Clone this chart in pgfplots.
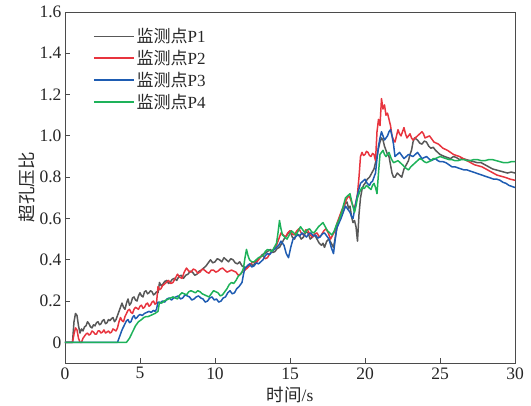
\documentclass[border=0pt]{standalone}
\usepackage{fontspec}
\setmainfont{Liberation Serif}
\newfontfamily\cjk{Noto Sans CJK SC}
\usepackage{pgfplots}
\pgfplotsset{compat=1.18}

\definecolor{cP1}{RGB}{88,88,88}
\definecolor{cP2}{RGB}{232,52,62}
\definecolor{cP3}{RGB}{30,92,178}
\definecolor{cP4}{RGB}{30,178,90}
\definecolor{axisgray}{RGB}{75,75,75}

\begin{document}
\begin{tikzpicture}
\useasboundingbox (-65pt,-43pt) rectangle (466pt,363pt);
\begin{axis}[
  at={(0,0)}, anchor=south west,
  scale only axis, width=450pt, height=351pt,
  xmin=0, xmax=30, ymin=-0.1, ymax=1.6,
  xtick={0,5,10,15,20,25,30},
  ytick={0,0.2,0.4,0.6,0.8,1.0,1.2,1.4,1.6},
  yticklabels={0,0.2,0.4,0.6,0.8,1.0,1.2,1.4,1.6},
  xtick pos=left, ytick pos=left,
  tick align=inside,
  major tick length=5pt,
  axis line style={axisgray, line width=0.9pt},
  tick style={axisgray, line width=0.9pt},
  /pgf/number format/assume math mode=true,
  tick label style={font=\fontsize{17.5}{20}\selectfont, text=black!85},
  xticklabel style={yshift=-1pt},
  xlabel={{\cjk 时间}/s},
  ylabel={\cjk 超孔压比},
  label style={font=\fontsize{17.5}{20}\selectfont, text=black!85},
  xlabel style={yshift=-1pt},
  ylabel style={yshift=-2pt},
  legend style={draw=none, fill=none, at={(0.055,0.965)}, anchor=north west,
    font=\fontsize{17}{19}\selectfont, row sep=2pt, text=black!85},
  legend cell align=left,
  legend image code/.code={\draw[#1, line width=1.7pt] (0pt,0pt) -- (40pt,0pt);},
  every axis plot/.append style={line width=1.5pt, line join=round},
]
\addplot[cP1] coordinates {
(0,0) (0.5,0) (0.6,0.10) (0.7,0.14) (0.8,0.13) (0.9,0.08) (1.0,0.045) (1.1,0.065) (1.2,0.055) (1.3,0.075) (1.4,0.08) (1.5,0.10) (1.6,0.09) (1.7,0.075) (1.8,0.07) (1.9,0.085) (2.0,0.08) (2.1,0.095) (2.2,0.10) (2.3,0.085) (2.4,0.09) (2.5,0.105) (2.6,0.11) (2.7,0.09) (2.8,0.095) (2.9,0.11) (3.0,0.105) (3.1,0.115) (3.2,0.12) (3.3,0.10) (3.4,0.11) (3.5,0.13) (3.6,0.15) (3.7,0.17) (3.8,0.19) (3.9,0.17) (4.0,0.16) (4.1,0.19) (4.2,0.21) (4.3,0.18) (4.4,0.19) (4.5,0.215) (4.6,0.22) (4.7,0.205) (4.8,0.20) (4.9,0.225) (5.0,0.24) (5.1,0.225) (5.2,0.22) (5.3,0.245) (5.4,0.25) (5.5,0.235) (5.6,0.24) (5.7,0.25) (5.8,0.245) (5.9,0.23) (6.0,0.235) (6.1,0.245) (6.2,0.24) (6.3,0.29) (6.4,0.275) (6.5,0.28) (6.65,0.295) (6.8,0.30) (6.9,0.285) (7.0,0.29) (7.15,0.305) (7.3,0.31) (7.45,0.30) (7.6,0.32) (7.75,0.325) (7.9,0.31) (8.05,0.325) (8.2,0.33) (8.35,0.345) (8.5,0.34) (8.65,0.325) (8.8,0.33) (8.95,0.345) (9.1,0.35) (9.25,0.36) (9.4,0.37) (9.55,0.385) (9.7,0.40) (9.85,0.385) (10.0,0.39) (10.15,0.405) (10.3,0.40) (10.45,0.39) (10.6,0.41) (10.75,0.40) (10.9,0.39) (11.05,0.405) (11.2,0.40) (11.35,0.385) (11.5,0.38) (11.65,0.39) (11.8,0.37) (11.95,0.365) (12.1,0.36) (12.25,0.375) (12.4,0.38) (12.55,0.37) (12.7,0.39) (12.85,0.40) (13.0,0.41) (13.15,0.425) (13.3,0.43) (13.5,0.44) (13.7,0.45) (13.85,0.435) (14.0,0.44) (14.15,0.455) (14.3,0.46) (14.45,0.48) (14.6,0.50) (14.8,0.52) (15.0,0.54) (15.15,0.51) (15.3,0.50) (15.45,0.525) (15.6,0.52) (15.75,0.50) (15.9,0.51) (16.05,0.535) (16.2,0.53) (16.35,0.50) (16.5,0.51) (16.65,0.52) (16.8,0.50) (16.95,0.48) (17.1,0.47) (17.2,0.48) (17.3,0.46) (17.45,0.49) (17.6,0.50) (17.75,0.48) (17.9,0.46) (18.05,0.52) (18.2,0.58) (18.35,0.61) (18.5,0.64) (18.65,0.67) (18.8,0.68) (18.9,0.65) (19.0,0.66) (19.1,0.61) (19.2,0.58) (19.3,0.59) (19.4,0.56) (19.5,0.49) (19.6,0.62) (19.7,0.70) (19.8,0.74) (19.9,0.76) (20.0,0.77) (20.15,0.79) (20.3,0.80) (20.45,0.82) (20.6,0.84) (20.7,0.87) (20.8,0.90) (20.9,0.94) (21.0,0.97) (21.1,0.99) (21.2,0.98) (21.3,0.95) (21.4,0.93) (21.5,0.91) (21.6,0.90) (21.7,0.86) (21.8,0.82) (21.9,0.80) (22.0,0.80) (22.15,0.82) (22.3,0.81) (22.45,0.80) (22.6,0.84) (22.75,0.86) (22.9,0.88) (23.0,0.91) (23.1,0.93) (23.2,0.97) (23.3,0.99) (23.4,0.985) (23.5,0.98) (23.65,0.965) (23.8,0.96) (23.95,0.975) (24.1,0.97) (24.25,0.95) (24.4,0.94) (24.55,0.945) (24.7,0.93) (24.85,0.92) (25.0,0.91) (25.15,0.905) (25.3,0.90) (25.5,0.895) (25.7,0.89) (25.9,0.90) (26.1,0.895) (26.3,0.885) (26.5,0.89) (26.75,0.885) (27.0,0.88) (27.25,0.875) (27.5,0.87) (27.75,0.87) (28.0,0.86) (28.25,0.85) (28.5,0.84) (28.75,0.835) (29.0,0.83) (29.25,0.825) (29.5,0.82) (29.75,0.825) (30,0.82)
};
\addlegendentry{{\cjk 监测点}P1}
\addplot[cP2] coordinates {
(0,0) (0.5,0) (0.6,0.04) (0.7,0.07) (0.8,0.06) (0.9,0.02) (1.0,0.0) (1.1,0.0) (1.2,0.02) (1.3,0.03) (1.4,0.04) (1.5,0.045) (1.6,0.035) (1.7,0.04) (1.8,0.055) (1.9,0.05) (2.0,0.04) (2.1,0.04) (2.2,0.055) (2.3,0.055) (2.4,0.045) (2.5,0.05) (2.6,0.06) (2.7,0.045) (2.8,0.05) (2.9,0.055) (3.0,0.045) (3.1,0.05) (3.2,0.065) (3.3,0.06) (3.4,0.055) (3.5,0.07) (3.6,0.10) (3.7,0.12) (3.8,0.105) (3.9,0.10) (4.0,0.125) (4.1,0.14) (4.2,0.155) (4.3,0.16) (4.4,0.145) (4.5,0.14) (4.6,0.16) (4.7,0.17) (4.8,0.165) (4.9,0.16) (5.0,0.175) (5.1,0.18) (5.2,0.165) (5.3,0.17) (5.4,0.185) (5.5,0.19) (5.6,0.175) (5.7,0.18) (5.8,0.195) (5.9,0.20) (6.0,0.185) (6.1,0.19) (6.2,0.27) (6.3,0.255) (6.4,0.26) (6.5,0.275) (6.6,0.28) (6.75,0.29) (6.9,0.30) (7.05,0.285) (7.2,0.29) (7.35,0.31) (7.5,0.33) (7.65,0.315) (7.8,0.31) (7.95,0.34) (8.1,0.36) (8.25,0.345) (8.4,0.34) (8.55,0.355) (8.7,0.35) (8.85,0.335) (9.0,0.34) (9.15,0.355) (9.3,0.35) (9.45,0.34) (9.6,0.335) (9.75,0.35) (9.9,0.35) (10.05,0.34) (10.2,0.345) (10.35,0.355) (10.5,0.36) (10.65,0.35) (10.8,0.34) (10.95,0.345) (11.1,0.35) (11.25,0.345) (11.4,0.34) (11.55,0.325) (11.7,0.33) (11.85,0.345) (12.0,0.35) (12.15,0.36) (12.3,0.37) (12.45,0.385) (12.6,0.39) (12.75,0.385) (12.9,0.40) (13.05,0.415) (13.2,0.42) (13.35,0.405) (13.5,0.41) (13.65,0.43) (13.8,0.44) (13.95,0.455) (14.1,0.47) (14.25,0.50) (14.4,0.53) (14.55,0.52) (14.7,0.51) (14.85,0.53) (15.0,0.54) (15.15,0.525) (15.3,0.52) (15.45,0.54) (15.6,0.55) (15.75,0.53) (15.9,0.52) (16.05,0.545) (16.2,0.54) (16.35,0.52) (16.5,0.51) (16.65,0.525) (16.8,0.53) (16.95,0.51) (17.1,0.52) (17.25,0.54) (17.4,0.55) (17.55,0.53) (17.7,0.50) (17.85,0.52) (18.0,0.54) (18.15,0.58) (18.3,0.61) (18.45,0.64) (18.6,0.66) (18.75,0.69) (18.9,0.71) (19.0,0.70) (19.1,0.68) (19.2,0.66) (19.3,0.65) (19.4,0.68) (19.5,0.72) (19.6,0.80) (19.7,0.90) (19.8,0.92) (19.9,0.905) (20.0,0.91) (20.1,0.925) (20.2,0.92) (20.3,0.905) (20.4,0.90) (20.5,0.915) (20.6,0.91) (20.7,0.88) (20.8,1.02) (20.9,1.08) (21.0,1.05) (21.1,1.18) (21.2,1.13) (21.3,1.15) (21.4,1.10) (21.5,1.11) (21.6,1.08) (21.7,1.05) (21.8,1.00) (21.9,0.98) (22.0,0.97) (22.1,1.00) (22.2,1.03) (22.3,1.01) (22.4,1.00) (22.5,1.02) (22.6,1.04) (22.7,1.01) (22.8,0.99) (22.9,1.00) (23.0,1.01) (23.1,0.99) (23.2,0.98) (23.35,0.99) (23.5,1.00) (23.65,1.01) (23.8,1.02) (23.9,1.01) (24.0,0.99) (24.15,0.995) (24.3,1.00) (24.45,0.985) (24.6,0.97) (24.75,0.965) (24.9,0.96) (25.05,0.95) (25.2,0.94) (25.35,0.935) (25.5,0.93) (25.7,0.92) (25.9,0.91) (26.1,0.905) (26.3,0.90) (26.55,0.89) (26.8,0.88) (27.05,0.87) (27.3,0.86) (27.55,0.855) (27.8,0.85) (28.05,0.84) (28.3,0.83) (28.55,0.82) (28.8,0.81) (29.05,0.805) (29.3,0.80) (29.5,0.795) (29.7,0.79) (30,0.785)
};
\addlegendentry{{\cjk 监测点}P2}
\addplot[cP3] coordinates {
(0,0) (3.5,0) (3.6,0.02) (3.7,0.04) (3.8,0.06) (3.9,0.075) (4.0,0.09) (4.1,0.105) (4.2,0.11) (4.3,0.095) (4.4,0.10) (4.5,0.12) (4.6,0.13) (4.7,0.115) (4.8,0.12) (4.9,0.13) (5.0,0.135) (5.15,0.13) (5.3,0.14) (5.45,0.145) (5.6,0.15) (5.75,0.145) (5.9,0.155) (6.0,0.15) (6.1,0.16) (6.2,0.195) (6.35,0.19) (6.5,0.20) (6.65,0.195) (6.8,0.21) (6.95,0.215) (7.1,0.205) (7.25,0.215) (7.4,0.22) (7.55,0.225) (7.7,0.21) (7.85,0.215) (8.0,0.23) (8.15,0.225) (8.3,0.22) (8.45,0.205) (8.6,0.21) (8.75,0.22) (8.9,0.225) (9.05,0.215) (9.2,0.21) (9.35,0.195) (9.5,0.20) (9.65,0.215) (9.8,0.22) (9.95,0.205) (10.1,0.21) (10.25,0.195) (10.4,0.20) (10.55,0.215) (10.7,0.22) (10.85,0.24) (11.0,0.25) (11.15,0.235) (11.3,0.24) (11.45,0.26) (11.6,0.27) (11.7,0.28) (11.8,0.29) (11.9,0.33) (12.0,0.36) (12.15,0.37) (12.3,0.38) (12.45,0.365) (12.6,0.37) (12.75,0.385) (12.9,0.38) (13.05,0.39) (13.2,0.40) (13.35,0.42) (13.5,0.43) (13.65,0.425) (13.8,0.44) (13.95,0.45) (14.1,0.46) (14.25,0.47) (14.4,0.49) (14.5,0.48) (14.6,0.47) (14.75,0.43) (14.9,0.41) (15.05,0.46) (15.2,0.50) (15.35,0.51) (15.5,0.52) (15.65,0.515) (15.8,0.53) (15.95,0.52) (16.1,0.51) (16.25,0.525) (16.4,0.53) (16.55,0.515) (16.7,0.52) (16.85,0.505) (17.0,0.51) (17.15,0.525) (17.3,0.53) (17.45,0.515) (17.6,0.50) (17.75,0.46) (17.9,0.43) (18.0,0.49) (18.1,0.55) (18.25,0.575) (18.4,0.60) (18.55,0.63) (18.7,0.66) (18.85,0.645) (19.0,0.63) (19.1,0.61) (19.2,0.60) (19.3,0.64) (19.4,0.68) (19.55,0.73) (19.7,0.77) (19.85,0.78) (20.0,0.79) (20.15,0.77) (20.3,0.76) (20.4,0.775) (20.5,0.78) (20.6,0.80) (20.7,0.82) (20.8,0.89) (20.9,0.95) (21.0,0.99) (21.1,1.02) (21.2,1.00) (21.3,0.98) (21.4,0.99) (21.5,1.00) (21.6,1.02) (21.7,1.03) (21.8,1.00) (21.9,0.96) (22.0,0.90) (22.15,0.91) (22.3,0.92) (22.45,0.905) (22.6,0.89) (22.75,0.90) (22.9,0.91) (23.05,0.905) (23.2,0.90) (23.35,0.91) (23.5,0.92) (23.65,0.905) (23.8,0.89) (23.95,0.895) (24.1,0.90) (24.25,0.89) (24.4,0.88) (24.55,0.885) (24.7,0.89) (24.85,0.88) (25.0,0.875) (25.2,0.875) (25.4,0.87) (25.6,0.86) (25.8,0.85) (26.0,0.85) (26.2,0.845) (26.4,0.84) (26.6,0.835) (26.8,0.835) (27.0,0.83) (27.2,0.825) (27.4,0.82) (27.6,0.815) (27.8,0.81) (28.0,0.805) (28.2,0.80) (28.4,0.795) (28.6,0.79) (28.8,0.79) (29.0,0.785) (29.2,0.775) (29.4,0.77) (29.6,0.76) (29.8,0.755) (30,0.75)
};
\addlegendentry{{\cjk 监测点}P3}
\addplot[cP4] coordinates {
(0,0) (4.1,0) (4.2,0.01) (4.3,0.02) (4.4,0.035) (4.5,0.05) (4.6,0.065) (4.7,0.08) (4.8,0.09) (4.9,0.10) (5.0,0.105) (5.1,0.11) (5.25,0.12) (5.4,0.125) (5.55,0.125) (5.7,0.13) (5.85,0.135) (6.0,0.14) (6.1,0.145) (6.2,0.15) (6.3,0.195) (6.45,0.19) (6.6,0.20) (6.75,0.205) (6.9,0.21) (7.05,0.215) (7.2,0.22) (7.35,0.215) (7.5,0.21) (7.65,0.23) (7.8,0.24) (7.95,0.235) (8.1,0.23) (8.25,0.245) (8.4,0.25) (8.55,0.245) (8.7,0.24) (8.85,0.25) (9.0,0.245) (9.15,0.235) (9.3,0.23) (9.45,0.225) (9.6,0.22) (9.75,0.235) (9.9,0.25) (10.05,0.245) (10.2,0.24) (10.35,0.225) (10.5,0.23) (10.65,0.245) (10.8,0.26) (10.95,0.28) (11.1,0.29) (11.25,0.285) (11.4,0.30) (11.55,0.32) (11.7,0.33) (11.8,0.34) (11.9,0.36) (12.0,0.41) (12.1,0.45) (12.2,0.42) (12.3,0.40) (12.45,0.39) (12.6,0.39) (12.75,0.40) (12.9,0.41) (13.05,0.415) (13.2,0.42) (13.35,0.44) (13.5,0.45) (13.65,0.445) (13.8,0.44) (13.95,0.46) (14.1,0.48) (14.2,0.53) (14.3,0.59) (14.4,0.55) (14.5,0.52) (14.65,0.51) (14.8,0.50) (14.95,0.52) (15.1,0.54) (15.25,0.53) (15.4,0.52) (15.55,0.54) (15.7,0.56) (15.85,0.545) (16.0,0.53) (16.15,0.545) (16.3,0.55) (16.45,0.535) (16.6,0.53) (16.75,0.545) (16.9,0.56) (17.05,0.57) (17.2,0.58) (17.35,0.56) (17.5,0.54) (17.65,0.53) (17.8,0.52) (17.95,0.54) (18.1,0.57) (18.25,0.59) (18.4,0.62) (18.55,0.66) (18.7,0.70) (18.85,0.71) (19.0,0.72) (19.15,0.67) (19.3,0.63) (19.4,0.66) (19.5,0.70) (19.65,0.73) (19.8,0.75) (19.95,0.745) (20.1,0.76) (20.25,0.75) (20.4,0.74) (20.5,0.76) (20.6,0.77) (20.7,0.75) (20.8,0.72) (20.9,0.82) (21.0,0.91) (21.1,0.92) (21.2,0.93) (21.3,0.91) (21.4,0.90) (21.5,0.91) (21.6,0.92) (21.75,0.89) (21.9,0.87) (22.05,0.875) (22.2,0.88) (22.35,0.87) (22.5,0.86) (22.7,0.845) (22.9,0.835) (23.05,0.85) (23.2,0.86) (23.35,0.87) (23.5,0.88) (23.65,0.89) (23.8,0.885) (23.95,0.875) (24.1,0.87) (24.25,0.875) (24.4,0.88) (24.55,0.89) (24.7,0.89) (24.85,0.895) (25.0,0.90) (25.2,0.895) (25.4,0.89) (25.6,0.885) (25.8,0.885) (26.0,0.88) (26.2,0.88) (26.4,0.885) (26.6,0.885) (26.8,0.88) (27.0,0.88) (27.25,0.885) (27.5,0.885) (27.75,0.88) (28.0,0.88) (28.25,0.885) (28.5,0.885) (28.75,0.88) (29.0,0.875) (29.25,0.87) (29.5,0.87) (29.75,0.875) (30,0.875)
};
\addlegendentry{{\cjk 监测点}P4}
\end{axis}
\end{tikzpicture}
\end{document}
